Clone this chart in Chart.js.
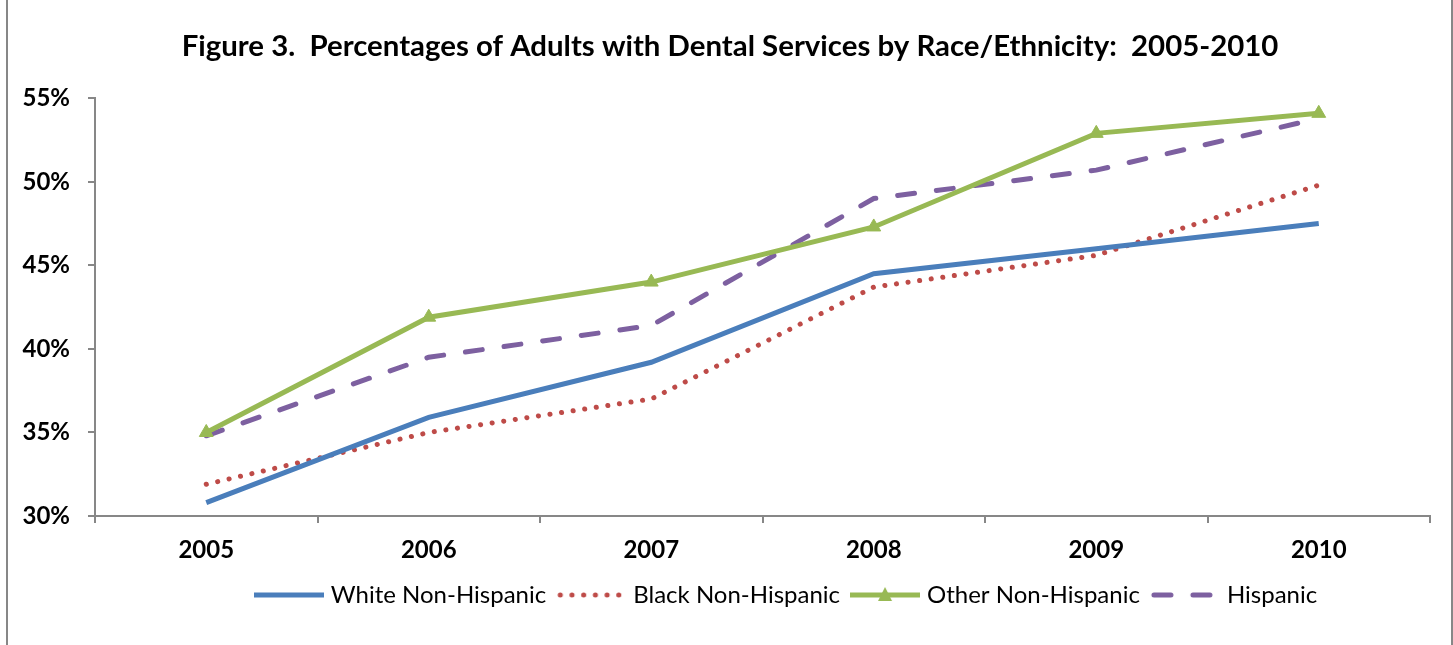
<!DOCTYPE html>
<html>
<head>
<meta charset="utf-8">
<script src="https://cdn.jsdelivr.net/npm/chart.js@4/dist/chart.umd.min.js"></script>
<style>
  html, body { margin: 0; padding: 0; background: #fff; }
  #wrap { position: relative; width: 1453px; height: 645px; }
  #frame { position: absolute; left: 6px; top: 0; width: 1447px; height: 645px;
           border-left: 2px solid #878787; border-right: 2px solid #878787;
           box-sizing: border-box; pointer-events: none; }
</style>
</head>
<body>
<div id="wrap">
  <canvas id="chart" width="1453" height="645"></canvas>
  <div id="frame"></div>
</div>
<script>
const years = ['2005', '2006', '2007', '2008', '2009', '2010'];
const whiteNH = [30.8, 35.9, 39.2, 44.5, 46.0, 47.5];
const blackNH = [31.9, 35.0, 37.0, 43.7, 45.6, 49.8];
const otherNH = [35.0, 41.9, 44.0, 47.3, 52.9, 54.1];
const hispanic = [34.8, 39.5, 41.4, 49.0, 50.7, 53.8];
const yTicks = [30, 35, 40, 45, 50, 55];

const BLUE = '#4a7ebb';
const RED = '#be4b48';
const GREEN = '#98b954';
const PURPLE = '#7d60a0';
const AXIS = '#878787';

// small canvases used as legend samples (line + optional marker)
function legendSample(color, dash, marker) {
    const c = document.createElement('canvas');
    c.width = 70;
    c.height = 18;
    const g = c.getContext('2d');
    g.strokeStyle = color;
    g.lineWidth = 5;
    g.lineCap = dash ? 'round' : 'butt';
    if (dash) g.setLineDash(dash);
    g.beginPath();
    g.moveTo(dash ? 4 : 0, 9);
    g.lineTo(70, 9);
    g.stroke();
    if (marker) {
        g.fillStyle = color;
        g.beginPath();
        g.moveTo(35, 1);
        g.lineTo(42, 15);
        g.lineTo(28, 15);
        g.closePath();
        g.fill();
    }
    return c;
}

const samples = [
    legendSample(BLUE, null, false),
    legendSample(RED, [0.1, 11.6], false),
    legendSample(GREEN, null, true),
    legendSample(PURPLE, [17, 22], false)
];

// the original centres title and legend a bit right of the canvas middle
const nudge = {
    id: 'nudge',
    afterLayout(chart) {
        const t = chart.titleBlock, l = chart.legend;
        t.left += 15; t.right += 15;
        l.left += 73; l.right += 73;
    }
};

const ctx = document.getElementById('chart').getContext('2d');
new Chart(ctx, {
    type: 'line',
    data: {
        labels: years,
        datasets: [
            { label: 'White Non-Hispanic', data: whiteNH, borderColor: BLUE, borderWidth: 5, pointRadius: 0, tension: 0 },
            { label: 'Black Non-Hispanic', data: blackNH, borderColor: RED, borderWidth: 5, borderDash: [0.1, 11.6], borderCapStyle: 'round', pointRadius: 0, tension: 0 },
            { label: 'Other Non-Hispanic', data: otherNH, borderColor: GREEN, backgroundColor: GREEN, borderWidth: 5, pointStyle: 'triangle', pointRadius: 8, pointBorderWidth: 1, tension: 0 },
            { label: 'Hispanic', data: hispanic, borderColor: PURPLE, borderWidth: 5, borderDash: [17, 22], borderCapStyle: 'round', pointRadius: 0, tension: 0 }
        ]
    },
    plugins: [nudge],
    options: {
        responsive: false,
        animation: false,
        layout: { padding: { left: 0, right: 23, top: 8, bottom: 28 } },
        plugins: {
            title: {
                display: true,
                text: 'Figure 3.  Percentages of Adults with Dental Services by Race/Ethnicity:  2005-2010',
                color: '#000',
                font: { family: 'Lato', size: 29.4, weight: 'bold' },
                padding: { top: 21, bottom: 34 }
            },
            legend: {
                position: 'bottom',
                labels: {
                    color: '#000',
                    font: { family: 'Lato', size: 24 },
                    usePointStyle: true,
                    pointStyleWidth: 60,
                    boxHeight: 18,
                    padding: 15,
                    generateLabels: chart => chart.data.datasets.map((ds, i) => ({
                        text: ds.label,
                        pointStyle: samples[i],
                        fontColor: '#000',
                        lineWidth: 0,
                        datasetIndex: i
                    }))
                }
            },
            tooltip: { enabled: false }
        },
        scales: {
            x: {
                offset: true,
                grid: { offset: true, drawOnChartArea: false, color: AXIS, lineWidth: 2, tickLength: 7 },
                border: { color: AXIS, width: 2 },
                ticks: { color: '#000', font: { family: 'Lato', size: 24, weight: 'bold' }, padding: 13 },
                afterFit: s => { s.height = 52; }
            },
            y: {
                min: 30,
                max: 55,
                afterBuildTicks: s => { s.ticks = yTicks.map(v => ({ value: v })); },
                grid: { drawOnChartArea: false, color: AXIS, lineWidth: 2, tickLength: 7 },
                border: { color: AXIS, width: 2 },
                ticks: { color: '#000', font: { family: 'Lato', size: 24, weight: 'bold' }, padding: 18,
                         callback: v => v + '%' },
                afterFit: s => { s.width = 95; }
            }
        }
    }
});
</script>
</body>
</html>
